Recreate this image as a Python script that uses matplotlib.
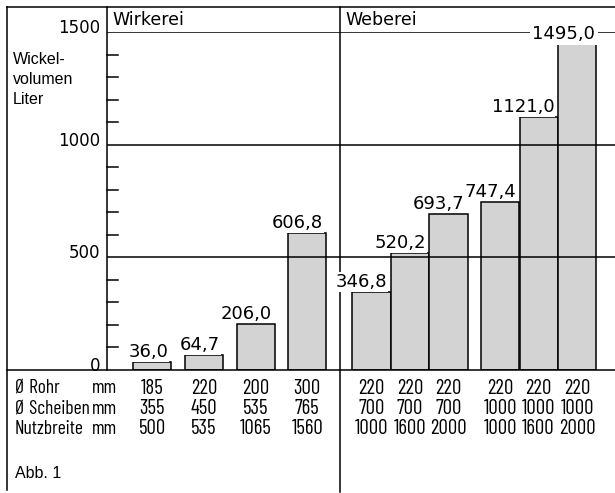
import numpy as np
import matplotlib
matplotlib.use("Agg")
import matplotlib.pyplot as plt
import matplotlib.transforms as mtransforms

# data
wirk_vol = [36.0, 64.7, 206.0, 606.8]
web_vol = [346.8, 520.2, 693.7, 747.4, 1121.0, 1495.0]
wirk_rohr = ["185", "220", "200", "300"]
wirk_scheiben = ["355", "450", "535", "765"]
wirk_nutz = ["500", "535", "1065", "1560"]
web_rohr = ["220", "220", "220", "220", "220", "220"]
web_scheiben = ["700", "700", "700", "1000", "1000", "1000"]
web_nutz = ["1000", "1600", "2000", "1000", "1600", "2000"]
row_labels = ["Ø Rohr", "Ø Scheiben", "Nutzbreite"]
y_labels = [0, 500, 1000, 1500]

vol = wirk_vol + web_vol
rows = [wirk_rohr + web_rohr, wirk_scheiben + web_scheiben, wirk_nutz + web_nutz]

# layout (bar width = 1 unit)
w = 0.99
x_wirk = 1.18 + 1.34 * np.arange(len(wirk_vol))
x_web = 6.87 + np.array([0, 1, 2, 3.34, 4.34, 5.34])
xs = np.concatenate([x_wirk, x_web])
x_sep = 6.05

fig = plt.figure(figsize=(6.15, 4.93), dpi=100)
ax = fig.add_axes([107 / 615, 123 / 493, 508 / 615, 338 / 493])
ax.set_xlim(0, 508 / 38.5)
ax.set_ylim(0, 1500)
for s in ax.spines.values():
    s.set_visible(False)
ax.set_xticks([])
ax.set_yticks([])

lw = 1.1
ax.bar(xs, vol, width=w, color="#d3d3d3", edgecolor="black", linewidth=lw, zorder=2)

# grid lines over the bars
for v in [500, 1000, 1500]:
    ax.axhline(v, color="black", lw=lw, zorder=3)

# minor ticks inward
minor = [v for v in range(100, 1500, 100) if v % 500]
for v in minor:
    ax.plot([0, 0.28], [v, v], color="black", lw=lw, zorder=3, clip_on=False)

# frame lines (axes coords)
top = (370 - 7) / 338
left = (7 - 107) / 508
bottom = (370 - 490) / 338
tr = ax.transAxes
ax.plot([left, 1], [top, top], color="black", lw=lw, transform=tr, clip_on=False)
ax.plot([left, left], [top, bottom], color="black", lw=lw, transform=tr, clip_on=False)
ax.plot([left, 1], [0, 0], color="black", lw=lw, transform=tr, clip_on=False, zorder=3)
ax.plot([0, 0], [0, top], color="black", lw=lw, transform=tr, clip_on=False, zorder=3)
xt = ax.get_xaxis_transform()
ax.plot([x_sep, x_sep], [bottom - 0.005, top], color="black", lw=lw, transform=xt,
        clip_on=False, zorder=3)

num_font = "DejaVu Sans"

# y labels
off = mtransforms.offset_copy(ax.transData, fig=fig, x=-7, y=-1, units="dots")
for v in y_labels:
    ax.text(0, v, str(v), transform=off, ha="right", va="baseline",
            fontsize=12, family=num_font)

ax.text(left + 0.012, (370 - 52) / 338, "Wickel-\nvolumen\nLiter", transform=tr,
        ha="left", va="top", fontsize=11.5, family="Liberation Sans", linespacing=1.4)

ax.text(0.01, (370 - 20) / 338, "Wirkerei", transform=tr, ha="left", va="center",
        fontsize=12.5, family=num_font)
ax.text((345 - 107) / 508, (370 - 20) / 338, "Weberei", transform=tr, ha="left",
        va="center", fontsize=12.5, family=num_font)

# value labels
lab_off = mtransforms.offset_copy(ax.transData, fig=fig, x=-3, y=5, units="dots")
for x, v in zip(xs, vol):
    txt = f"{v:.1f}".replace(".", ",")
    if v + 90 > 1500:
        ax.text(x + w / 2 - 0.02, 1500, txt, ha="right", va="center_baseline",
                fontsize=13, family=num_font, zorder=5,
                bbox=dict(facecolor="white", edgecolor="none", pad=1.5))
    else:
        ax.text(x + w / 2, v, txt, transform=lab_off, ha="right", va="baseline",
                fontsize=13, family=num_font, zorder=5,
                bbox=dict(facecolor="white", edgecolor="none", pad=0.5))

# table beneath
row_y = [(370 - 388) / 338, (370 - 409) / 338, (370 - 429) / 338]
tab_font = ["Barlow Condensed", "DejaVu Sans"]
for ry, lab, vals in zip(row_y, row_labels, rows):
    ax.text((15 - 107) / 508, ry, lab, transform=tr, ha="left", va="center",
            fontsize=14, family=tab_font)
    ax.text((92 - 107) / 508, ry, "mm", transform=tr, ha="left", va="center",
            fontsize=14, family=tab_font)
    for x, t in zip(xs, vals):
        ax.text(x, ry, t, transform=xt, ha="center", va="center",
                fontsize=15, family=tab_font)

ax.text((15 - 107) / 508, (370 - 473) / 338, "Abb. 1", transform=tr, ha="left",
        va="center", fontsize=11.5, family="Liberation Sans")

fig.savefig("out.png", dpi=100)
